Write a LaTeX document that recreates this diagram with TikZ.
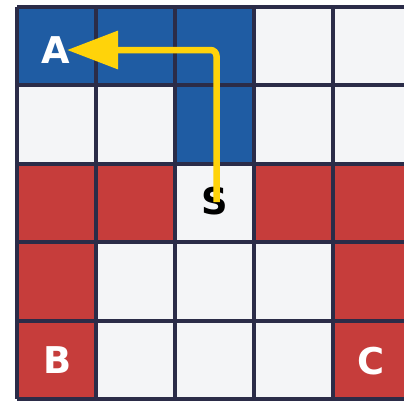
\documentclass[tikz,border=0pt]{standalone}
\usepackage{fontspec}
\newfontfamily\labfont{DejaVu Sans}
\usetikzlibrary{arrows.meta}
\definecolor{cblue}{HTML}{1F5CA3}
\definecolor{cred}{HTML}{C63D3B}
\definecolor{clight}{HTML}{F4F5F7}
\definecolor{cgrid}{HTML}{2B2C48}
\definecolor{cyel}{HTML}{FFD30A}
\tikzset{
  lab/.style={font=\labfont\bfseries\fontsize{37}{37}\selectfont, inner sep=0pt},
  wlab/.style={lab, text=white},
  blab/.style={lab, text=black},
  gridline/.style={draw=cgrid, line width=4bp},
  patharrow/.style={draw=cyel, line width=6.5bp, rounded corners=6bp,
    -{Triangle[length=51bp, width=37bp]}}
}
\begin{document}
\begin{tikzpicture}[x=1bp, y=-1bp]
\useasboundingbox (0,0) rectangle (404,401);
\fill[white] (0,0) rectangle (404,401);
\begin{scope}
\clip (0,0) rectangle (404,401);
% cell fills: row-wise, col-wise
\foreach \r/\c/\col in {
  0/0/cblue,0/1/cblue,0/2/cblue,0/3/clight,0/4/clight,
  1/0/clight,1/1/clight,1/2/cblue,1/3/clight,1/4/clight,
  2/0/cred,2/1/cred,2/2/clight,2/3/cred,2/4/cred,
  3/0/cred,3/1/clight,3/2/clight,3/3/clight,3/4/cred,
  4/0/cred,4/1/clight,4/2/clight,4/3/clight,4/4/cred}
  \fill[\col] ({17+79*\c},{6.5+78.5*\r}) rectangle ({17+79*(\c+1)},{6.5+78.5*(\r+1)});
\foreach \i in {0,...,5}{
  \draw[gridline] ({17+79*\i},6.5) -- ({17+79*\i},399);
  \draw[gridline] (17,{6.5+78.5*\i}) -- (412,{6.5+78.5*\i});
}
\end{scope}
\node[wlab] (A) at (56,50) {A};
\node[wlab] (B) at (57.5,360) {B};
\node[wlab] (C) at (371.5,361) {C};
\node[blab] (S) at (215,201.5) {S};
\coordinate (start) at (216.5,202);
\coordinate (tip) at (67,50);
\draw[patharrow] (start) |- (tip);
\end{tikzpicture}
\end{document}
